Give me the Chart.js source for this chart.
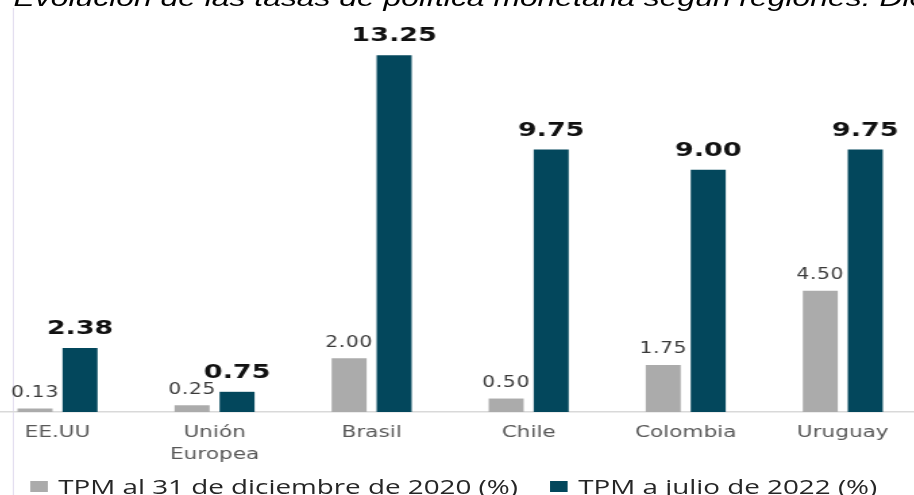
<!DOCTYPE html>
<html>
<head>
<meta charset="utf-8">
<script src="https://cdn.jsdelivr.net/npm/chart.js@4.4.1/dist/chart.umd.min.js"></script>
<style>
html, body { margin: 0; padding: 0; background: #fff; overflow: hidden; }
body { width: 914px; height: 495px; position: relative; }
/* the source picture is stretched sideways, so the whole chart is drawn narrow and widened */
#wrap { position: absolute; left: -21.5px; top: 0; width: 698px; height: 495px; transform: scaleX(1.35); transform-origin: 0 0; }
#title { position: absolute; left: 25.6px; top: -15px; line-height: 24px; font: italic 23.6px "Liberation Sans", Arial, sans-serif; white-space: nowrap; color: #000; }
#frame { position: absolute; left: 24.8px; top: 8px; height: 487px; border-left: 1px solid #e4dff0; }
#box { position: absolute; left: 0; top: 0; width: 698px; height: 495px; }
#legend { position: absolute; left: 0; top: 473px; width: 698px; height: 26px; font: 20.6px "Open Sans", sans-serif; line-height: 26px; color: #262626; }
.item { position: absolute; top: 0; display: flex; align-items: center; white-space: nowrap; }
.sw { display: inline-block; width: 12.6px; height: 11px; margin-right: 8px; }
</style>
</head>
<body>
<div id="wrap">
  <div id="title">Evolución de las tasas de política monetaria según regiones. Diciembre 2020 - julio 2022</div>
  <div id="frame"></div>
  <div id="box"><canvas id="chart"></canvas></div>
  <div id="legend"></div>
</div>
<script>
const categories = ['EE.UU', ['Unión', 'Europea'], 'Brasil', 'Chile', 'Colombia', 'Uruguay'];
const tpmDic2020 = [0.13, 0.25, 2.00, 0.50, 1.75, 4.50];
const tpmJul2022 = [2.38, 0.75, 13.25, 9.75, 9.00, 9.75];
const seriesNames = ['TPM al 31 de diciembre de 2020 (%)', 'TPM a julio de 2022 (%)'];
const seriesColors = ['#ababab', '#03475c'];

// values over the bars, light for 2020, bold for 2022
const valueLabels = {
  id: 'valueLabels',
  afterDatasetsDraw(chart) {
    const ctx = chart.ctx;
    chart.data.datasets.forEach((ds, i) => {
      chart.getDatasetMeta(i).data.forEach((bar, j) => {
        const txt = ds.data[j].toFixed(2);
        ctx.save();
        ctx.textAlign = 'center';
        ctx.textBaseline = 'alphabetic';
        let y;
        if (i === 0) {
          ctx.font = '15px "DejaVu Sans"';
          ctx.fillStyle = '#3a3a3a';
          ctx.letterSpacing = '0.5px';
          y = bar.y - 11.5;
        } else {
          ctx.font = 'bold 20px "DejaVu Sans"';
          ctx.fillStyle = '#111';
          y = bar.y - 13.7;
        }
        ctx.fillText(txt, bar.x, y);
        ctx.restore();
      });
    });
  }
};

const chart = new Chart(document.getElementById('chart'), {
  type: 'bar',
  data: {
    labels: categories,
    datasets: [
      { label: seriesNames[0], data: tpmDic2020, backgroundColor: seriesColors[0] },
      { label: seriesNames[1], data: tpmJul2022, backgroundColor: seriesColors[1] }
    ]
  },
  options: {
    responsive: true,
    maintainAspectRatio: false,
    animation: false,
    layout: { padding: { top: 35, left: 0, right: 0, bottom: 23 } },
    datasets: { bar: { categoryPercentage: 0.573, barPercentage: 0.778 } },
    plugins: { legend: { display: false }, tooltip: { enabled: false } },
    scales: {
      x: {
        grid: { display: false, drawTicks: false },
        border: { display: true, color: '#d9d9d9', width: 1.5 },
        ticks: {
          color: '#595959',
          font: { family: 'DejaVu Sans', size: 16, lineHeight: 1.375 },
          padding: 10,
          maxRotation: 0,
          autoSkip: false
        },
        afterFit: s => { s.height = 60; }
      },
      y: { display: false, min: 0, max: 14 }
    }
  },
  plugins: [valueLabels]
});

// legend built from the chart's own datasets
const legendPos = [38.1, 423.3];
const legend = document.getElementById('legend');
chart.data.datasets.forEach((ds, i) => {
  const item = document.createElement('div');
  item.className = 'item';
  item.style.left = legendPos[i] + 'px';
  const sw = document.createElement('span');
  sw.className = 'sw';
  sw.style.background = ds.backgroundColor;
  item.appendChild(sw);
  item.appendChild(document.createTextNode(ds.label));
  legend.appendChild(item);
});
</script>
</body>
</html>
